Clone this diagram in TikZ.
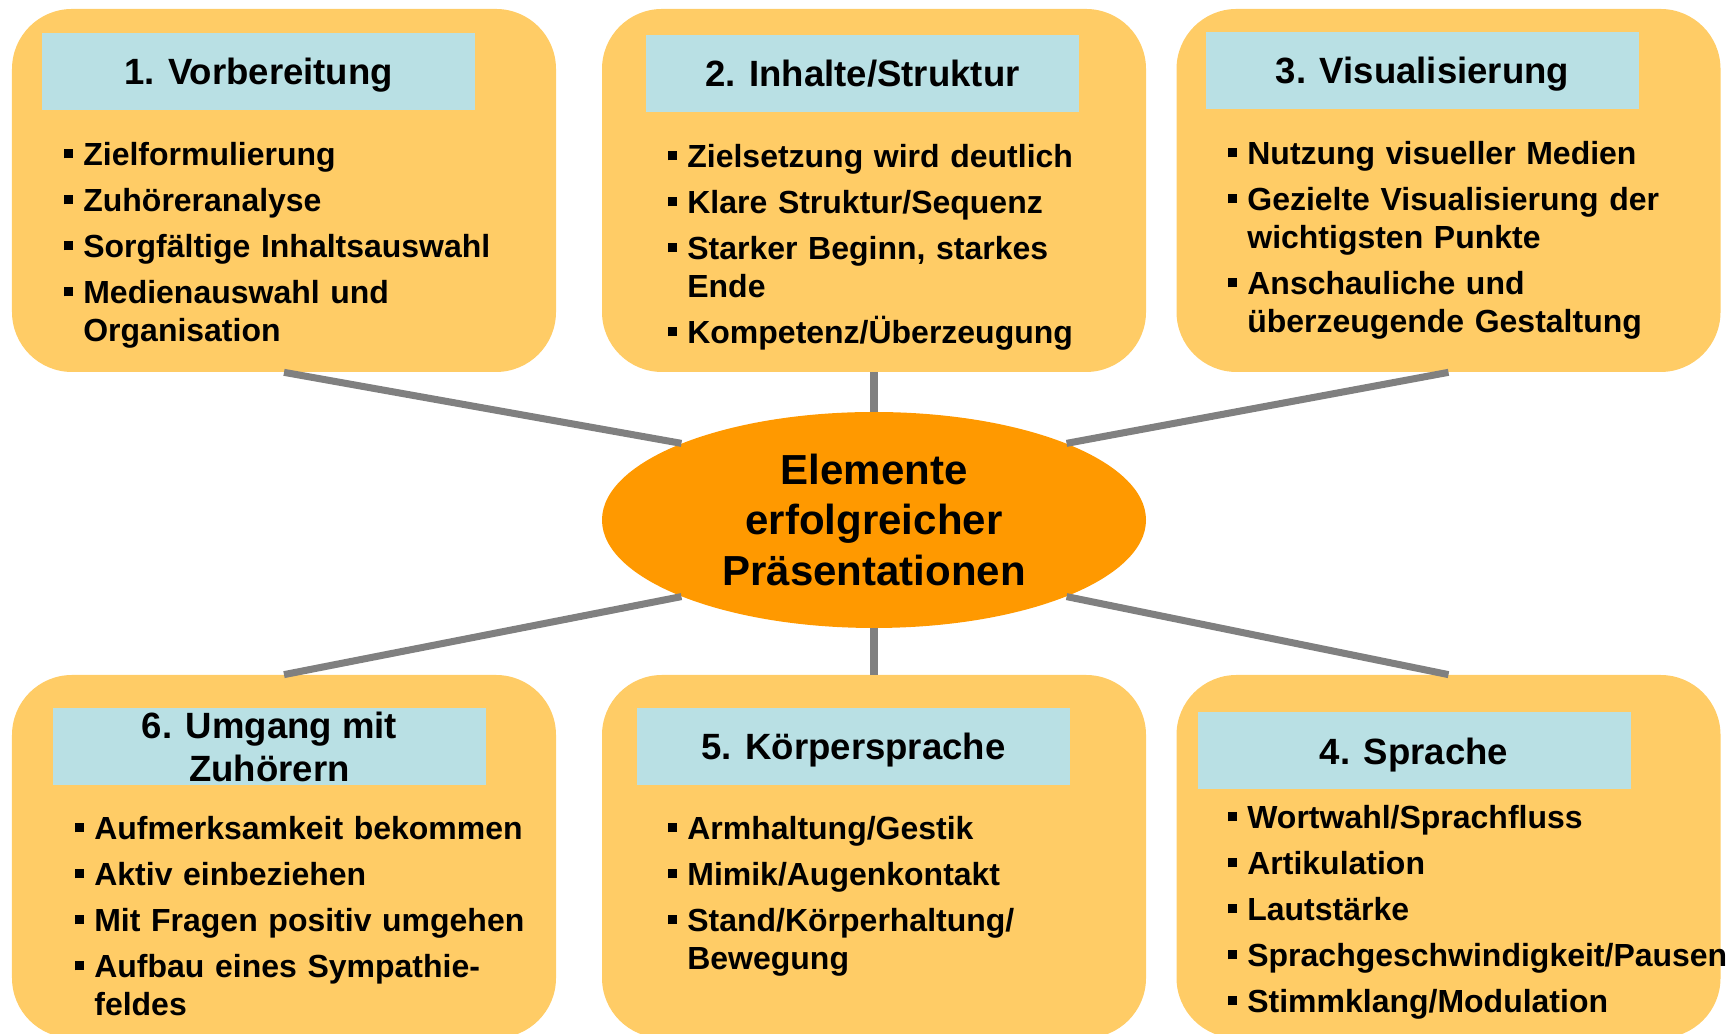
\documentclass[tikz,border=0pt]{standalone}
\usepackage{fontspec}
\setmainfont{Liberation Sans}
\usepackage{tikz}
\usetikzlibrary{shapes.geometric}

\definecolor{panelfill}{RGB}{255,204,102}
\definecolor{headfill}{RGB}{185,224,228}
\definecolor{hubfill}{RGB}{255,153,0}
\definecolor{spokegray}{RGB}{128,128,128}

% square bullet and list item with hanging indent
\newcommand{\bsq}{\makebox[0.38cm][l]{\raisebox{0.15cm}{\rule{0.17cm}{0.18cm}}}}
\newcommand{\itm}[1]{\hangindent=0.38cm\hangafter=1\noindent\bsq#1\par\vspace{0.16cm}}

\begin{document}
\begin{tikzpicture}[
    panel/.style={fill=panelfill, rounded corners=1.2cm, minimum width=10.88cm, minimum height=7.26cm, inner sep=0pt},
    headbase/.style={fill=headfill, minimum width=8.66cm, minimum height=1.54cm, inner sep=0pt, align=center, font=\bfseries\fontsize{20.8}{24.5}\selectfont},
    heading/.style={headbase, text depth=0pt},
    itemlist/.style={anchor=base west, inner sep=0pt, text width=10.5cm, align=left, font=\bfseries\fontsize{18.2}{21.6}\selectfont},
    hub/.style={ellipse, fill=hubfill, minimum width=10.88cm, minimum height=4.32cm, inner sep=0pt, align=center, font=\bfseries\fontsize{23.9}{29}\selectfont},
    spoke/.style={draw=spokegray, line width=4pt}
]
    \useasboundingbox (0,0) rectangle (34.7,20.68);

    % Panels
    \node[panel] (b1) at (5.68,16.87) {};
    \node[panel] (b2) at (17.48,16.87) {};
    \node[panel] (b3) at (28.97,16.87) {};
    \node[panel] (b6) at (5.68,3.55) {};
    \node[panel] (b5) at (17.48,3.55) {};
    \node[panel] (b4) at (28.97,3.55) {};

    % Centre
    \node[hub] (hub) at (17.48,10.28) {Elemente\\erfolgreicher\\Präsentationen};

    % Spokes
    \draw[spoke] (b1.south) -- (hub.north west);
    \draw[spoke] (b2.south) -- (hub.north);
    \draw[spoke] (b3.south) -- (hub.north east);
    \draw[spoke] (hub.south west) -- (b6.north);
    \draw[spoke] (hub.south) -- (b5.north);
    \draw[spoke] (hub.south east) -- (b4.north);

    % 1. Vorbereitung
    \node[heading] (h1) at (5.17,19.25) {1. Vorbereitung};
    \node[itemlist] (l1) at (1.28,17.36) {\itm{Zielformulierung}
        \itm{Zuhöreranalyse}
        \itm{Sorgfältige Inhaltsauswahl}
        \itm{Medienauswahl und\newline Organisation}};

    % 2. Inhalte/Struktur
    \node[heading] (h2) at (17.25,19.21) {2. Inhalte/Struktur};
    \node[itemlist] (l2) at (13.36,17.32) {\itm{Zielsetzung wird deutlich}
        \itm{Klare Struktur/Sequenz}
        \itm{Starker Beginn, starkes\newline Ende}
        \itm{Kompetenz/Überzeugung}};

    % 3. Visualisierung
    \node[heading] (h3) at (28.45,19.27) {3. Visualisierung};
    \node[itemlist] (l3) at (24.56,17.38) {\itm{Nutzung visueller Medien}
        \itm{Gezielte Visualisierung der\newline wichtigsten Punkte}
        \itm{Anschauliche und\newline überzeugende Gestaltung}};

    % 4. Sprache
    \node[heading] (h4) at (28.28,5.66) {4. Sprache};
    \node[itemlist] (l4) at (24.56,4.1) {\itm{Wortwahl/Sprachfluss}
        \itm{Artikulation}
        \itm{Lautstärke}
        \itm{Sprachgeschwindigkeit/Pausen}
        \itm{Stimmklang/Modulation}};

    % 5. Körpersprache
    \node[heading] (h5) at (17.07,5.75) {5. Körpersprache};
    \node[itemlist] (l5) at (13.36,3.88) {\itm{Armhaltung/Gestik}
        \itm{Mimik/Augenkontakt}
        \itm{Stand/Körperhaltung/\newline Bewegung}};

    % 6. Umgang mit Zuhörern
    \node[headbase] (h6) at (5.39,5.75) {6. Umgang mit\\Zuhörern};
    \node[itemlist] (l6) at (1.5,3.88) {\itm{Aufmerksamkeit bekommen}
        \itm{Aktiv einbeziehen}
        \itm{Mit Fragen positiv umgehen}
        \itm{Aufbau eines Sympathie-\newline feldes}};
\end{tikzpicture}
\end{document}
